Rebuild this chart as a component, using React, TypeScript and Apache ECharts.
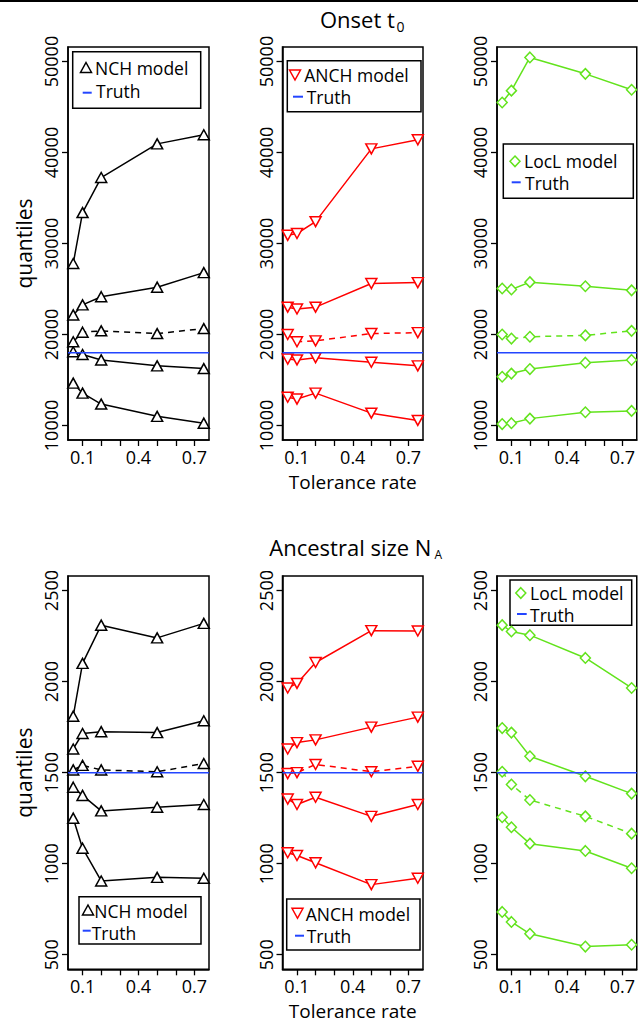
import React, { useEffect, useRef } from "react";
import * as echarts from "echarts";

// Tolerance rates (x values)
const tolerance = [0.05, 0.1, 0.2, 0.5, 0.75];
const xTicks = [0.1, 0.2, 0.3, 0.4, 0.5, 0.6, 0.7];
const xTickLabels = [0.1, 0.4, 0.7];
const onsetTicks = [10000, 20000, 30000, 40000, 50000];
const sizeTicks = [500, 1000, 1500, 2000, 2500];

const onsetTruth = 18000;
const sizeTruth = 1500;

// Onset t0 quantiles: [2.5%, 25%, 50%, 75%, 97.5%]
const onsetNCH = [
  [14650, 13550, 12350, 11000, 10250],
  [18100, 17800, 17200, 16550, 16250],
  [19200, 20250, 20400, 20100, 20650],
  [22150, 23250, 24150, 25200, 26800],
  [27800, 33400, 37250, 40950, 41950],
];
const onsetANCH = [
  [13100, 12900, 13550, 11350, 10550],
  [17300, 17200, 17450, 16950, 16550],
  [20000, 19200, 19300, 20100, 20200],
  [23000, 22800, 23000, 25600, 25700],
  [30900, 31100, 32400, 40400, 41400],
];
const onsetLocL = [
  [10150, 10250, 10750, 11450, 11600],
  [15350, 15700, 16200, 16900, 17200],
  [20000, 19550, 19750, 19900, 20400],
  [25050, 24950, 25750, 25300, 24850],
  [45500, 46800, 50450, 48650, 46900],
];

// Ancestral size N_A quantiles
const sizeNCH = [
  [1250, 1085, 905, 925, 920],
  [1420, 1375, 1290, 1310, 1325],
  [1515, 1540, 1515, 1505, 1550],
  [1630, 1715, 1725, 1720, 1785],
  [1810, 2100, 2310, 2240, 2320],
];
const sizeANCH = [
  [1060, 1045, 1005, 885, 920],
  [1355, 1325, 1365, 1260, 1325],
  [1495, 1500, 1545, 1505, 1535],
  [1630, 1665, 1680, 1750, 1805],
  [1965, 1990, 2105, 2280, 2278],
];
const sizeLocL = [
  [735, 680, 615, 545, 555],
  [1255, 1200, 1110, 1070, 975],
  [1505, 1435, 1350, 1260, 1165],
  [1745, 1720, 1590, 1480, 1385],
  [2310, 2275, 2255, 2130, 1965],
];

const FONT = "'Open Sans', 'DejaVu Sans', sans-serif";
const BLACK = "#000000";
const RED = "#ff0000";
const GREEN = "#62e31c";
const BLUE = "#2345ff";

const X_MIN = 0.022;
const X_MAX = 0.778;

type ModelKind = "up" | "down" | "diamond";

const models: { name: string; kind: ModelKind; color: string }[] = [
  { name: "NCH model", kind: "up", color: BLACK },
  { name: "ANCH model", kind: "down", color: RED },
  { name: "LocL model", kind: "diamond", color: GREEN },
];

const panels = [
  { data: onsetNCH, model: 0, row: 0, col: 0 },
  { data: onsetANCH, model: 1, row: 0, col: 1 },
  { data: onsetLocL, model: 2, row: 0, col: 2 },
  { data: sizeNCH, model: 0, row: 1, col: 0 },
  { data: sizeANCH, model: 1, row: 1, col: 1 },
  { data: sizeLocL, model: 2, row: 1, col: 2 },
];

const cols = [
  { left: 68, width: 141 },
  { left: 282.5, width: 140.5 },
  { left: 497, width: 140.5 },
];
const rows = [
  { top: 47, height: 393, min: 8400, max: 51600, ticks: onsetTicks, truth: onsetTruth },
  { top: 576, height: 393.3, min: 420, max: 2580, ticks: sizeTicks, truth: sizeTruth },
];

// legend boxes layout
const legends = [
  { box: [72.7, 51.7, 128, 56.6], icon: [86, 67.5], text: [95, 68], dash: [82.7, 91.7, 92.7], truth: [96, 91] },
  { box: [287.3, 60.7, 133.7, 51], icon: [295, 75], text: [304.3, 74.5], dash: [293, 303, 96.7], truth: [306.7, 96.5] },
  { box: [503.3, 144, 130, 54.3], icon: [515, 161.3], text: [524, 160.8], dash: [511.7, 520.7, 182.3], truth: [525, 183.3] },
  { box: [79, 896.7, 122, 47.3], icon: [88, 910], text: [94.3, 911], dash: [82.7, 90.7, 930.7], truth: [91.7, 933] },
  { box: [286.7, 899, 133.3, 51], icon: [297.5, 913.3], text: [305.7, 913.5], dash: [295, 304, 935.7], truth: [306.7, 935.5] },
  { box: [510, 580, 121.7, 45.3], icon: [520.8, 593], text: [530, 592.5], dash: [517, 526.7, 614], truth: [530, 614.5] },
];

function iconPoints(kind: ModelKind, cx: number, cy: number): number[][] {
  if (kind === "up") return [[cx, cy - 5], [cx + 5.5, cy + 5], [cx - 5.5, cy + 5]];
  if (kind === "down") return [[cx - 5.5, cy - 5], [cx + 5.5, cy - 5], [cx, cy + 5]];
  return [[cx, cy - 5.3], [cx + 5, cy], [cx, cy + 5.3], [cx - 5, cy]];
}

export default function App() {
  const ref = useRef<HTMLDivElement>(null);

  useEffect(() => {
    if (!ref.current) return;
    const chart = echarts.init(ref.current, undefined, { renderer: "svg" });

    const grid: any[] = [];
    const xAxis: any[] = [];
    const yAxis: any[] = [];
    const series: any[] = [];
    const graphic: any[] = [];

    panels.forEach((p, idx) => {
      const c = cols[p.col];
      const r = rows[p.row];
      const m = models[p.model];
      grid.push({
        left: c.left,
        top: r.top,
        width: c.width,
        height: r.height,
        show: true,
        borderColor: BLACK,
        borderWidth: 1.5,
        backgroundColor: "transparent",
      });
      xAxis.push({
        type: "value",
        gridIndex: idx,
        min: X_MIN,
        max: X_MAX,
        name: p.col === 1 ? "Tolerance rate" : "",
        nameLocation: "middle",
        nameGap: 32,
        nameTextStyle: { fontSize: 19, color: BLACK, fontFamily: FONT },
        axisLine: { show: true, lineStyle: { color: BLACK, width: 1.5 } },
        axisTick: {
          show: true,
          inside: false,
          length: 6,
          customValues: xTicks,
          lineStyle: { color: BLACK, width: 1.3 },
        },
        axisLabel: {
          show: true,
          customValues: xTickLabels,
          formatter: (v: number) => v.toFixed(1),
          fontSize: 18,
          color: BLACK,
          fontFamily: FONT,
          margin: 8,
        },
        splitLine: { show: false },
      });
      yAxis.push({
        type: "value",
        gridIndex: idx,
        min: r.min,
        max: r.max,
        name: p.col === 0 ? "quantiles" : "",
        nameLocation: "middle",
        nameGap: 34,
        nameTextStyle: { fontSize: 21, color: BLACK, fontFamily: FONT },
        axisLine: { show: true, lineStyle: { color: BLACK, width: 1.5 } },
        axisTick: {
          show: true,
          inside: false,
          length: 6,
          customValues: r.ticks,
          lineStyle: { color: BLACK, width: 1.3 },
        },
        axisLabel: {
          show: true,
          customValues: r.ticks,
          formatter: (v: number) => String(Math.round(v)),
          rotate: 90,
          fontSize: 18,
          color: BLACK,
          fontFamily: FONT,
          margin: 8,
        },
        splitLine: { show: false },
      });

      p.data.forEach((vals, qi) => {
        series.push({
          type: "line",
          name: qi === 0 ? m.name : m.name + " q" + qi,
          xAxisIndex: idx,
          yAxisIndex: idx,
          data: tolerance.map((x, i) => [x, vals[i]]),
          symbol: m.kind === "diamond" ? "diamond" : "triangle",
          symbolSize: m.kind === "diamond" ? [10, 10.5] : [11, 10],
          symbolRotate: m.kind === "down" ? 180 : 0,
          showSymbol: true,
          itemStyle: { color: "#ffffff", borderColor: m.color, borderWidth: 1.5 },
          lineStyle: { color: m.color, width: 1.5, type: qi === 2 ? [6, 5] : "solid" },
          z: 3,
          silent: true,
        });
      });

      series.push({
        type: "line",
        name: "Truth",
        xAxisIndex: idx,
        yAxisIndex: idx,
        data: [[X_MIN, r.truth], [X_MAX, r.truth]],
        showSymbol: false,
        symbol: "none",
        lineStyle: { color: BLUE, width: 1.5 },
        z: 4,
        silent: true,
      });

      const L = legends[idx];
      graphic.push({
        type: "group",
        z: 10,
        children: [
          {
            type: "rect",
            shape: { x: L.box[0], y: L.box[1], width: L.box[2], height: L.box[3] },
            style: { fill: "#ffffff", stroke: BLACK, lineWidth: 1.5 },
          },
          {
            type: "polygon",
            shape: { points: iconPoints(m.kind, L.icon[0], L.icon[1]) },
            style: { fill: "#ffffff", stroke: m.color, lineWidth: 1.5 },
          },
          {
            type: "text",
            style: {
              text: m.name,
              x: L.text[0],
              y: L.text[1],
              fill: BLACK,
              fontSize: 17.5,
              lineHeight: 18,
              fontFamily: FONT,
              align: "left",
              verticalAlign: "middle",
            },
          },
          {
            type: "line",
            shape: { x1: L.dash[0], y1: L.dash[2], x2: L.dash[1], y2: L.dash[2] },
            style: { stroke: BLUE, lineWidth: 2 },
          },
          {
            type: "text",
            style: {
              text: "Truth",
              x: L.truth[0],
              y: L.truth[1],
              fill: BLACK,
              fontSize: 17.5,
              lineHeight: 18,
              fontFamily: FONT,
              align: "left",
              verticalAlign: "middle",
            },
          },
        ],
      });
    });

    // top rule and titles
    graphic.push({
      type: "line",
      shape: { x1: 0, y1: 1, x2: 638, y2: 1 },
      style: { stroke: BLACK, lineWidth: 2 },
    });
    graphic.push({
      type: "text",
      style: { text: "Onset t", x: 320, y: 18.7, fill: BLACK, fontSize: 22, fontFamily: FONT, align: "left", verticalAlign: "middle" },
    });
    graphic.push({
      type: "text",
      style: { text: "0", x: 396.5, y: 26.7, fill: BLACK, fontSize: 14, fontFamily: FONT, align: "left", verticalAlign: "middle" },
    });
    graphic.push({
      type: "text",
      style: { text: "Ancestral size N", x: 269.3, y: 546.7, fill: BLACK, fontSize: 22, fontFamily: FONT, align: "left", verticalAlign: "middle" },
    });
    graphic.push({
      type: "text",
      style: { text: "A", x: 434.5, y: 554.2, fill: BLACK, fontSize: 12, fontFamily: FONT, align: "left", verticalAlign: "middle" },
    });

    chart.setOption({
      animation: false,
      backgroundColor: "#ffffff",
      textStyle: { fontFamily: FONT },
      grid,
      xAxis,
      yAxis,
      series,
      graphic,
    });

    return () => chart.dispose();
  }, []);

  return (
    <div
      ref={ref}
      style={{ position: "absolute", left: 0, top: 0, width: 638, height: 1024 }}
    />
  );
}
